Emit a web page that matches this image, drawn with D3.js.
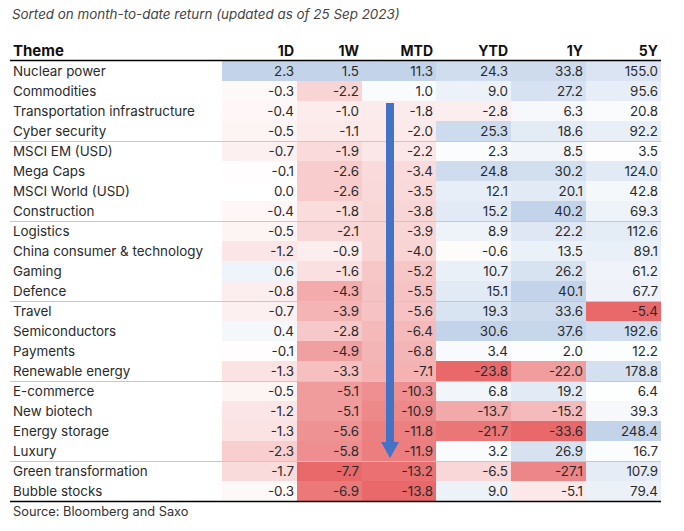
<!DOCTYPE html>
<html>
<head>
<meta charset="utf-8">
<script src="https://cdn.jsdelivr.net/npm/d3@7"></script>
<style>
  body { margin: 0; background: #fff; }
  text { font-family: Inter, "Noto Sans", sans-serif; }
</style>
</head>
<body>
<div id="table"></div>
<script>
// data
var themes = ["Nuclear power", "Commodities", "Transportation infrastructure", "Cyber security",
  "MSCI EM (USD)", "Mega Caps", "MSCI World (USD)", "Construction",
  "Logistics", "China consumer & technology", "Gaming", "Defence",
  "Travel", "Semiconductors", "Payments", "Renewable energy",
  "E-commerce", "New biotech", "Energy storage", "Luxury",
  "Green transformation", "Bubble stocks"];

var columns = ["1D", "1W", "MTD", "YTD", "1Y", "5Y"];

var d1 = [2.3, -0.3, -0.4, -0.5, -0.7, -0.1, 0.0, -0.4, -0.5, -1.2, 0.6, -0.8, -0.7, 0.4, -0.1, -1.3, -0.5, -1.2, -1.3, -2.3, -1.7, -0.3];
var w1 = [1.5, -2.2, -1.0, -1.1, -1.9, -2.6, -2.6, -1.8, -2.1, -0.9, -1.6, -4.3, -3.9, -2.8, -4.9, -3.3, -5.1, -5.1, -5.6, -5.8, -7.7, -6.9];
var mtd = [11.3, 1.0, -1.8, -2.0, -2.2, -3.4, -3.5, -3.8, -3.9, -4.0, -5.2, -5.5, -5.6, -6.4, -6.8, -7.1, -10.3, -10.9, -11.8, -11.9, -13.2, -13.8];
var ytd = [24.3, 9.0, -2.8, 25.3, 2.3, 24.8, 12.1, 15.2, 8.9, -0.6, 10.7, 15.1, 19.3, 30.6, 3.4, -23.8, 6.8, -13.7, -21.7, 3.2, -6.5, 9.0];
var y1 = [33.8, 27.2, 6.3, 18.6, 8.5, 30.2, 20.1, 40.2, 22.2, 13.5, 26.2, 40.1, 33.6, 37.6, 2.0, -22.0, 19.2, -15.2, -33.6, 26.9, -27.1, -5.1];
var y5 = [155.0, 95.6, 20.8, 92.2, 3.5, 124.0, 42.8, 69.3, 112.6, 89.1, 61.2, 67.7, -5.4, 192.6, 12.2, 178.8, 6.4, 39.3, 248.4, 16.7, 107.9, 79.4];

var series = [d1, w1, mtd, ytd, y1, y5];

// layout
var W = 684, H = 531;
var left = 10, right = 661;
var colEdges = [222, 297, 362, 436, 511, 586, 661];   // cell borders of the value columns
var topY = 61, rowH = 20;
var groupSize = 4;   // thin rule every four rows
var fs = "13.4px";

var svg = d3.select("#table").append("svg")
    .attr("width", W)
    .attr("height", H);

var y = d3.scaleBand()
    .domain(themes)
    .range([topY, topY + rowH * themes.length]);

var x = d3.scaleOrdinal().domain(columns).range(colEdges.slice(0, 6));
var colW = function(c) { var i = columns.indexOf(c); return colEdges[i + 1] - colEdges[i]; };

// plain hyphen as the minus, like the source table
var fmt = function(v) { return d3.format(".1f")(v).replace("\u2212", "-"); };

// colour: red below zero, blue above, per column
var red = "#e9696b", blue = "#c3d4ea";
var colorLow = [-7, null, null, null, null, null];  // 1D red looks much paler than its own min
var colors = series.map(function(s, i) {
  var lo = colorLow[i] != null ? colorLow[i] : d3.min(s);
  return d3.scaleLinear()
    .domain([lo, 0, d3.max(s)])
    .range([red, "#ffffff", blue])
    .interpolate(d3.interpolateRgb)
    .clamp(true);
});

// title
svg.append("text")
    .attr("x", 12).attr("y", 19)
    .style("font-size", fs).style("font-style", "italic").style("fill", "#444")
    .text("Sorted on month-to-date return (updated as of 25 Sep 2023)");

// cells
var cells = [];
series.forEach(function(s, ci) {
  s.forEach(function(v, ri) {
    cells.push({col: columns[ci], ci: ci, theme: themes[ri], ri: ri, value: v});
  });
});

svg.append("g").selectAll("rect")
    .data(cells)
  .enter().append("rect")
    .attr("x", function(d) { return x(d.col); })
    .attr("y", function(d) { return y(d.theme); })
    .attr("width", function(d) { return colW(d.col); })
    .attr("height", y.bandwidth())
    .attr("fill", function(d) { return colors[d.ci](d.value); });

svg.append("g").selectAll("text")
    .data(cells)
  .enter().append("text")
    .attr("x", function(d) { return x(d.col) + colW(d.col) - 3; })
    .attr("y", function(d) { return y(d.theme) + y.bandwidth() / 2 + 4.6; })
    .attr("text-anchor", "end")
    .style("font-size", fs).style("fill", "#2a2a2a")
    .text(function(d) { return fmt(d.value); });

// theme names
svg.append("g").selectAll("text")
    .data(themes)
  .enter().append("text")
    .attr("x", 13)
    .attr("y", function(d) { return y(d) + y.bandwidth() / 2 + 4.6; })
    .style("font-size", fs).style("fill", "#2a2a2a")
    .text(function(d) { return d; });

// group rules
svg.append("g").selectAll("line")
    .data(themes.filter(function(d, i) { return (i + 1) % groupSize == 0 && i < themes.length - 1; }))
  .enter().append("line")
    .attr("x1", left).attr("x2", right)
    .attr("y1", function(d) { return y(d) + y.bandwidth() + 0.5; })
    .attr("y2", function(d) { return y(d) + y.bandwidth() + 0.5; })
    .attr("stroke", "#c8c8c8").attr("stroke-width", 1);

// header
svg.append("text")
    .attr("x", 13).attr("y", 56)
    .style("font-size", "15px").style("font-weight", "bold").style("fill", "#111")
    .text("Theme");

svg.append("g").selectAll("text")
    .data(columns)
  .enter().append("text")
    .attr("x", function(d) { return x(d) + colW(d) - 3; })
    .attr("y", 56)
    .attr("text-anchor", "end")
    .style("font-size", "14px").style("font-weight", "bold").style("fill", "#111")
    .text(function(d) { return d; });

svg.append("line")
    .attr("x1", left).attr("x2", right)
    .attr("y1", topY - 0.5).attr("y2", topY - 0.5)
    .attr("stroke", "#000").attr("stroke-width", 1.5);

svg.append("line")
    .attr("x1", left).attr("x2", right)
    .attr("y1", y.range()[1] + 0.5).attr("y2", y.range()[1] + 0.5)
    .attr("stroke", "#000").attr("stroke-width", 1.5);

// the downward arrow in the MTD column
var ax = x("MTD") + 28;
var ay0 = y(themes[2]) + 2, ay1 = y(themes[19]) + 17;
svg.append("path")
    .attr("d", "M" + (ax - 4) + "," + ay0 + "H" + (ax + 4) + "V" + (ay1 - 16) +
               "H" + (ax + 9) + "L" + ax + "," + ay1 + "L" + (ax - 9) + "," + (ay1 - 16) +
               "H" + (ax - 4) + "Z")
    .attr("fill", "#4472c4");

// source
svg.append("text")
    .attr("x", 13).attr("y", 516)
    .style("font-size", "12.8px").style("fill", "#333")
    .text("Source: Bloomberg and Saxo");
</script>
</body>
</html>
